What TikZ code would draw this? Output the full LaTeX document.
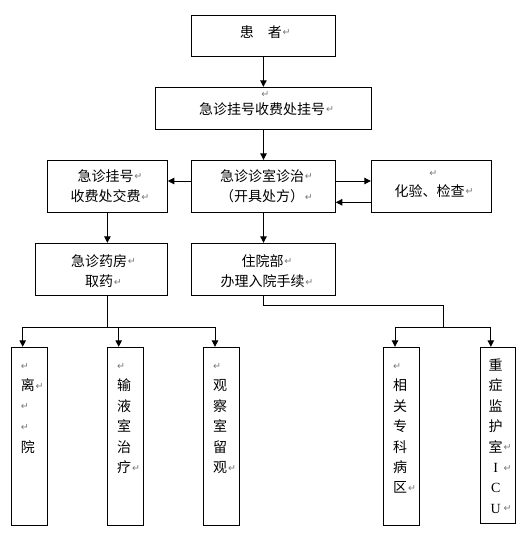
\documentclass[tikz,border=0pt]{standalone}
\usepackage{fontspec}
\setmainfont{Noto Sans CJK SC}
\newfontfamily\symfont{DejaVu Sans}
\newfontfamily\latinserif{Liberation Serif}
\usetikzlibrary{arrows.meta}
\definecolor{markgray}{RGB}{118,118,118}
\newcommand\pmkglyph{\textcolor{markgray}{\fontsize{9.5pt}{9.5pt}\symfont\raisebox{1.5pt}{↵}}}
\newcommand\pmk{\rlap{\hspace{0.8pt}\pmkglyph}}
\newcommand\sh{\rule{0pt}{13pt}}
\newcommand\sd{\rule[-2.4pt]{0pt}{2.4pt}}
\newcommand\icu[1]{\makebox[14pt][c]{\latinserif #1}}
\tikzset{
  box/.style={draw, line width=1pt, inner sep=0pt},
  lbl/.style={inner sep=0pt, font=\fontsize{14pt}{20.4pt}\selectfont, align=center},
  col/.style={inner sep=0pt, font=\fontsize{14pt}{20.4pt}\selectfont, align=left, anchor=north west},
  conn/.style={line width=1pt},
  arr/.style={conn, -{Triangle[width=6.5pt,length=6.5pt]}}
}
\begin{document}
\begin{tikzpicture}[x=1pt,y=-1pt]
\useasboundingbox (0,0) rectangle (527,544);
% boxes
\node[box, minimum width=143.8pt, minimum height=40.3pt] (p) at (263.4,35.85) {};
\node[box, minimum width=215.7pt, minimum height=42pt] (r) at (263.15,108.3) {};
\node[box, minimum width=119.8pt, minimum height=52.4pt] (f) at (107.4,186.5) {};
\node[box, minimum width=143.6pt, minimum height=52.4pt] (d) at (263.5,186.5) {};
\node[box, minimum width=120.4pt, minimum height=52.4pt] (l) at (431.5,186.5) {};
\node[box, minimum width=132.3pt, minimum height=52pt] (ph) at (101.15,269.3) {};
\node[box, minimum width=143.6pt, minimum height=52pt] (h) at (263.5,269.3) {};
\node[box, minimum width=35.6pt, minimum height=177.7pt] (c1) at (29.5,436.15) {};
\node[box, minimum width=36pt, minimum height=177.7pt] (c2) at (125.3,436.15) {};
\node[box, minimum width=36pt, minimum height=177.7pt] (c3) at (221.3,436.15) {};
\node[box, minimum width=36pt, minimum height=177.7pt] (c4) at (401.3,436.15) {};
\node[box, minimum width=35.7pt, minimum height=175.7pt] (c5) at (497.85,435.15) {};
% texts
\node[lbl] (tp) at (260.8,32) {\sh 患　者\pmk\sd};
\node[inner sep=0pt] (trm) at (265.3,95) {\pmkglyph};
\node[lbl] (tr) at (262.2,109) {\sh 急诊挂号收费处挂号\pmk\sd};
\node[lbl] (tf) at (105.5,186) {\sh 急诊挂号\pmk\\收费处交费\pmk\sd};
\node[lbl] (td) at (262,186) {\sh 急诊诊室诊治\pmk\\（开具处方）\pmk\sd};
\node[inner sep=0pt] (tlm) at (433.3,174.3) {\pmkglyph};
\node[lbl] (tl) at (429.7,191) {\sh 化验、检查\pmk\sd};
\node[lbl] (tph) at (99,271) {\sh 急诊药房\pmk\\取药\pmk\sd};
\node[lbl] (th) at (262.5,271) {\sh 住院部\pmk\\办理入院手续\pmk\sd};
\node[col] (t1) at (20.7,357.3) {\sh\pmkglyph\\离\pmk\\\pmkglyph\\\pmkglyph\\院};
\node[col] (t2) at (117,357.3) {\sh\pmkglyph\\输\\液\\室\\治\\疗\pmk};
\node[col] (t3) at (213,357.3) {\sh\pmkglyph\\观\\察\\室\\留\\观\pmk};
\node[col] (t4) at (393,357.3) {\sh\pmkglyph\\相\\关\\专\\科\\病\\区\pmk};
\node[col] (t5) at (488.5,357.3) {\sh 重\\症\\监\\护\\室\pmk\\\icu{I}\pmk\\\icu{C}\\\icu{U}\pmk};
% connectors
\draw[arr] (p.south) -- (p.south |- r.north);
\draw[arr] (d.north |- r.south) -- (d.north);
\draw[arr] ([yshift=5.5pt]d.west) -- ([yshift=5.5pt]f.east);
\draw[arr] ([yshift=5.5pt]d.east) -- ([yshift=5.5pt]l.west);
\draw[arr] ([yshift=-15.8pt]l.west) -- ([yshift=-15.8pt]d.east);
\draw[arr] (f.south) -- (f.south |- ph.north);
\draw[arr] (d.south) -- (h.north);
\coordinate (j1) at (107,327);
\draw[conn] (ph.south -| j1) -- (j1);
\draw[arr] (j1) -| ([xshift=-6.8pt]c1.north);
\draw[arr] (j1) -| ([xshift=-6.6pt]c2.north);
\draw[arr] (j1) -| ([xshift=-6.3pt]c3.north);
\coordinate (k1) at (443.3,305.7);
\coordinate (k2) at (443.3,327);
\draw[conn] (h.south) |- (k1) -- (k2);
\draw[arr] (k2) -| ([xshift=-6.3pt]c4.north);
\draw[arr] (k2) -| ([xshift=-7pt]c5.north);
\end{tikzpicture}
\end{document}
